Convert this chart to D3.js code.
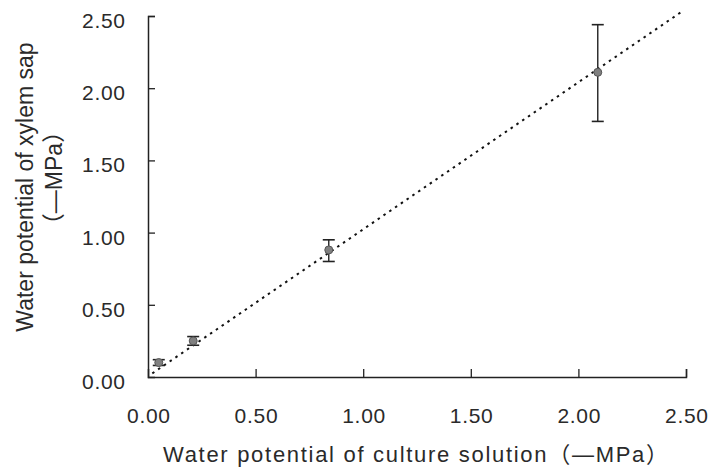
<!DOCTYPE html>
<html>
<head>
<meta charset="utf-8">
<script src="https://cdnjs.cloudflare.com/ajax/libs/d3/7.8.5/d3.min.js"></script>
<style>
	body { margin: 0; background: #fff; }
	text { font-family: "Liberation Sans", Arial, "Noto Sans CJK JP", sans-serif; fill: #2a2a2a; }
</style>
</head>
<body>
<svg id="chart" width="711" height="471"></svg>
<script>
// culture solution vs xylem sap water potential (-MPa)
var culture = [0.05, 0.21, 0.84, 2.09];
var xylem = [0.10, 0.25, 0.88, 2.11];
var errLow = [0.08, 0.22, 0.80, 1.77];
var errHigh = [0.12, 0.28, 0.95, 2.44];
var trendX = [0.02, 2.49];
var trendY = [0.025, 2.54];
var tickValues = [0, 0.5, 1, 1.5, 2, 2.5];

var svg = d3.select("#chart");

var xscale = d3.scaleLinear().domain([0, 2.5]).range([148, 686]);
var yscale = d3.scaleLinear().domain([0, 2.5]).range([377, 16]);

var fmt = d3.format(".2f");

var xaxis = d3.axisBottom(xscale)
	.tickValues(tickValues)
	.tickSize(-8)
	.tickPadding(31)
	.tickFormat(fmt);

var yaxis = d3.axisLeft(yscale)
	.tickValues(tickValues)
	.tickSize(-7)
	.tickPadding(23)
	.tickFormat(fmt);

var gX = svg.append("g")
	.attr("transform", "translate(0," + yscale(0) + ")")
	.call(xaxis);
var gY = svg.append("g")
	.attr("transform", "translate(" + xscale(0) + ",0)")
	.call(yaxis);

[gX, gY].forEach(function(g){
	g.select(".domain").attr("stroke", "#222").attr("stroke-width", 1.5);
	g.selectAll(".tick line").attr("stroke", "#222").attr("stroke-width", 1.3);
	g.selectAll(".tick text")
		.style("font-size", "21px")
		.attr("fill", "#2a2a2a")
		.attr("textLength", 43)
		.attr("lengthAdjust", "spacing");
});
gY.selectAll(".tick text").attr("dy", "0.55em");
// no tick marks at the origin
gX.selectAll(".tick").filter(function(d){ return d === 0; }).select("line").remove();
gY.selectAll(".tick").filter(function(d){ return d === 0; }).select("line").remove();

// dotted trend line
svg.append("line")
	.attr("x1", xscale(trendX[0]))
	.attr("y1", yscale(trendY[0]))
	.attr("x2", xscale(trendX[1]))
	.attr("y2", yscale(trendY[1]))
	.attr("stroke", "#111")
	.attr("stroke-width", 2)
	.attr("stroke-dasharray", "2.5,4.5");

// error bars
var eb = svg.append("g").selectAll("g")
	.data(culture)
	.enter().append("g");

eb.append("line")
	.attr("x1", function(d){ return xscale(d); })
	.attr("x2", function(d){ return xscale(d); })
	.attr("y1", function(d, i){ return yscale(errLow[i]); })
	.attr("y2", function(d, i){ return yscale(errHigh[i]); })
	.attr("stroke", "#222")
	.attr("stroke-width", 1.4);

[errLow, errHigh].forEach(function(arr){
	eb.append("line")
		.attr("x1", function(d){ return xscale(d) - 6; })
		.attr("x2", function(d){ return xscale(d) + 6; })
		.attr("y1", function(d, i){ return yscale(arr[i]); })
		.attr("y2", function(d, i){ return yscale(arr[i]); })
		.attr("stroke", "#222")
		.attr("stroke-width", 1.6);
});

// points
svg.append("g").selectAll("circle")
	.data(culture)
	.enter().append("circle")
	.attr("cx", function(d){ return xscale(d); })
	.attr("cy", function(d, i){ return yscale(xylem[i]); })
	.attr("r", 4)
	.attr("fill", "#808080")
	.attr("stroke", "#555")
	.attr("stroke-width", 1);

// axis titles
svg.append("text")
	.attr("x", 163)
	.attr("y", 462)
	.attr("textLength", 505)
	.attr("lengthAdjust", "spacing")
	.style("font-size", "22px")
	.text("Water potential of culture solution（—MPa）");

var yt = svg.append("text")
	.attr("transform", "rotate(-90)")
	.attr("text-anchor", "middle")
	.style("font-size", "23px");
yt.append("tspan").attr("x", -187).attr("y", 33).text("Water potential of xylem sap");
yt.append("tspan").attr("x", -178).attr("y", 62).text("（—MPa）");
</script>
</body>
</html>
